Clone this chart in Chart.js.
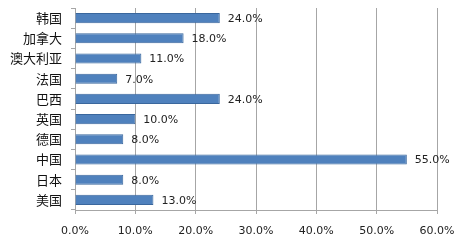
<!DOCTYPE html>
<html>
<head>
<meta charset="utf-8">
<script src="https://cdn.jsdelivr.net/npm/chart.js@4.4.1/dist/chart.umd.min.js"></script>
<style>
  html, body { margin: 0; padding: 0; background: #fff; }
  #wrap { width: 460px; height: 241px; }
</style>
</head>
<body>
<div id="wrap"><canvas id="chart" width="460" height="241"></canvas></div>
<script>
// 国家 (top to bottom as in the picture)
const countries = ["韩国", "加拿大", "澳大利亚", "法国", "巴西", "英国", "德国", "中国", "日本", "美国"];
// share in percent
const shares = [24, 18, 11, 7, 24, 10, 8, 55, 8, 13];
const xTicks = [0, 10, 20, 30, 40, 50, 60];

const fmt = v => Number(v).toFixed(1) + "%";

// value labels at bar end
const valueLabels = {
  id: "valueLabels",
  afterDatasetsDraw(chart) {
    const ctx = chart.ctx;
    const meta = chart.getDatasetMeta(0);
    ctx.save();
    ctx.font = "11px 'DejaVu Sans', sans-serif";
    ctx.fillStyle = "#222";
    ctx.textBaseline = "middle";
    meta.data.forEach((bar, i) => {
      ctx.fillText(fmt(shares[i]), bar.x + 8, bar.y + 1);
    });
    ctx.restore();
  }
};

new Chart(document.getElementById("chart"), {
  type: "bar",
  data: {
    labels: countries,
    datasets: [{
      data: shares,
      backgroundColor: "#4F81BD",
      borderColor: "#3A679D",
      borderWidth: 1,
      barPercentage: 0.5,
      categoryPercentage: 1.0
    }]
  },
  options: {
    indexAxis: "y",
    responsive: false,
    animation: false,
    layout: { padding: { top: 8, right: 23, bottom: 0, left: 0 } },
    plugins: {
      legend: { display: false },
      tooltip: { enabled: false }
    },
    scales: {
      x: {
        min: 0,
        max: 60,
        afterBuildTicks: axis => { axis.ticks = xTicks.map(v => ({ value: v })); },
        afterFit: axis => {
          axis.height = 31;
          axis.paddingLeft = 0;
          axis.paddingRight = 0;
        },
        grid: { color: "#A6A6A6", tickLength: 4, tickColor: "#A6A6A6" },
        border: { color: "#A6A6A6" },
        ticks: {
          callback: v => fmt(v),
          color: "#222",
          font: { size: 11, family: "'DejaVu Sans', sans-serif", lineHeight: 1 },
          padding: 12
        }
      },
      y: {
        afterFit: axis => {
          axis.width = 75;
          axis.paddingTop = 0;
          axis.paddingBottom = 0;
        },
        grid: { drawOnChartArea: false, color: "#A6A6A6", tickLength: 4 },
        border: { color: "#A6A6A6" },
        ticks: {
          color: "#111",
          font: { size: 13, family: "'Noto Sans CJK SC', sans-serif", lineHeight: 1 },
          padding: 9
        }
      }
    }
  },
  plugins: [valueLabels]
});
</script>
</body>
</html>
